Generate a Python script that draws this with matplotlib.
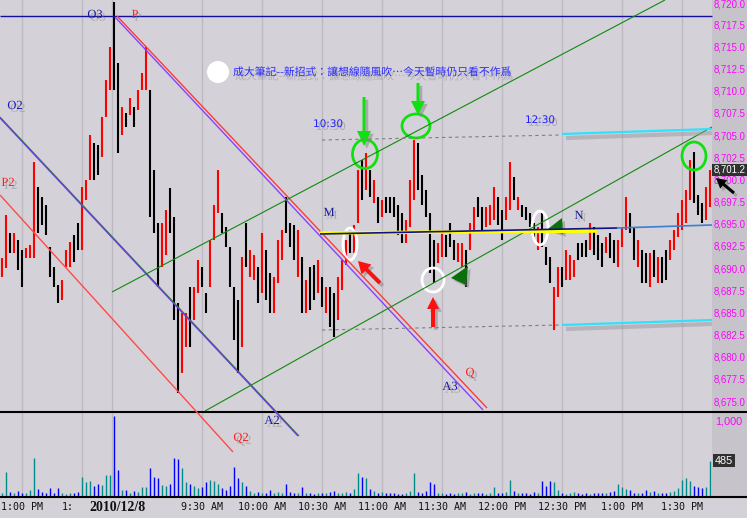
import matplotlib
matplotlib.use('Agg')
import matplotlib.pyplot as plt
import matplotlib.patheffects as pe
from matplotlib.patches import Ellipse, Polygon, FancyArrow, Circle
import numpy as np

# ---------------- data (2-minute bars) ----------------
highs = [
    8691.3, 8696.1, 8694.1, 8694.1, 8693.3, 8692.2, 8692.4, 8692.7, 8702.1, 8699.3,
    8698.1, 8697.2, 8692.5, 8690.2, 8688.2, 8688.8, 8692.2, 8693.1, 8693.8, 8695.2,
    8699.3, 8700.0, 8705.1, 8704.2, 8704.0, 8707.1, 8711.3, 8715.0, 8720.1, 8713.2,
    8708.3, 8707.6, 8709.3, 8708.3, 8710.2, 8712.1, 8715.0, 8710.2, 8701.2, 8695.2,
    8695.2, 8696.7, 8699.1, 8695.9, 8686.2, 8685.1, 8685.1, 8688.0, 8688.0, 8691.0,
    8690.2, 8687.3, 8693.3, 8697.2, 8701.2, 8696.3, 8694.7, 8692.5, 8688.0, 8686.5,
    8691.4, 8695.2, 8692.2, 8691.6, 8690.2, 8694.1, 8692.2, 8689.6, 8689.1, 8693.3,
    8694.4, 8698.1, 8695.2, 8695.0, 8694.4, 8691.4, 8688.8, 8690.2, 8690.5, 8691.0,
    8689.1, 8688.0, 8688.0, 8687.3, 8689.1, 8691.0, 8693.3, 8694.2, 8695.0, 8701.2,
    8702.3, 8703.1, 8701.2, 8700.0, 8698.1, 8697.8, 8698.1, 8698.1, 8698.1, 8697.2,
    8696.3, 8695.5, 8700.0, 8704.6, 8704.2, 8700.6, 8698.9, 8696.3, 8693.3, 8692.9,
    8694.1, 8693.8, 8695.2, 8693.3, 8692.9, 8692.9, 8692.2, 8695.2, 8697.0, 8698.1,
    8697.0, 8697.0, 8697.2, 8699.3, 8698.1, 8696.7, 8698.1, 8702.1, 8700.4, 8698.1,
    8697.2, 8697.0, 8696.3, 8695.2, 8694.7, 8696.3, 8692.5, 8691.4, 8688.0, 8690.2,
    8690.2, 8692.2, 8691.6, 8691.0, 8692.9, 8692.9, 8693.3, 8695.2, 8694.7, 8693.8,
    8692.9, 8693.6, 8694.1, 8693.3, 8693.3, 8694.7, 8698.1, 8696.3, 8694.7, 8693.3,
    8692.2, 8691.8, 8691.8, 8692.2, 8691.4, 8691.4, 8692.2, 8693.3, 8694.4, 8696.3,
    8697.8, 8698.9, 8702.3, 8703.2, 8698.4, 8697.5, 8699.3, 8701.2]
lows = [
    8689.1, 8690.1, 8691.8, 8691.8, 8689.9, 8688.0, 8691.3, 8691.3, 8691.3, 8694.1,
    8695.0, 8693.8, 8689.1, 8688.0, 8686.2, 8686.5, 8690.2, 8690.2, 8690.8, 8692.2,
    8692.2, 8697.8, 8700.0, 8700.0, 8700.6, 8702.6, 8707.1, 8710.2, 8710.2, 8703.1,
    8705.1, 8706.0, 8707.4, 8706.0, 8707.9, 8710.2, 8710.2, 8695.9, 8694.1, 8688.0,
    8690.2, 8691.6, 8694.1, 8684.3, 8676.0, 8678.3, 8681.2, 8681.2, 8684.3, 8687.3,
    8688.0, 8685.1, 8688.0, 8693.3, 8696.3, 8694.1, 8692.5, 8688.0, 8682.0, 8678.3,
    8681.2, 8690.2, 8689.1, 8688.8, 8686.2, 8687.3, 8686.5, 8685.1, 8685.1, 8688.4,
    8691.0, 8694.1, 8692.5, 8691.0, 8689.1, 8685.1, 8685.1, 8685.4, 8686.5, 8687.3,
    8685.7, 8685.1, 8683.5, 8682.3, 8684.3, 8687.6, 8690.5, 8691.8, 8691.8, 8695.2,
    8697.8, 8698.9, 8698.1, 8697.5, 8695.2, 8695.9, 8696.3, 8696.3, 8695.9, 8693.8,
    8692.9, 8692.9, 8694.7, 8697.8, 8698.9, 8697.2, 8695.9, 8689.6, 8688.4, 8690.7,
    8691.4, 8691.4, 8692.5, 8691.0, 8690.8, 8690.2, 8688.0, 8692.2, 8694.1, 8695.9,
    8694.4, 8694.7, 8695.0, 8695.5, 8695.0, 8693.3, 8695.5, 8696.7, 8697.8, 8696.7,
    8695.9, 8695.5, 8694.7, 8693.6, 8692.2, 8692.5, 8690.5, 8688.4, 8683.1, 8686.9,
    8688.0, 8688.8, 8688.8, 8689.1, 8691.0, 8691.4, 8691.4, 8692.2, 8691.6, 8691.0,
    8690.2, 8691.8, 8691.3, 8690.7, 8690.2, 8692.5, 8694.4, 8694.1, 8691.0, 8690.2,
    8688.4, 8688.4, 8688.0, 8689.1, 8688.4, 8688.4, 8688.8, 8691.0, 8692.2, 8693.6,
    8694.4, 8695.2, 8697.8, 8697.5, 8696.1, 8695.2, 8695.5, 8697.0]
updown = ("rrkrkkrrrk" "kkkkkrrrkk" "rrrkkrrrkk" "rkrkrrrkkk" "rrkkkrrkrr"
          "kkrrrkkkkk" "rkrrkrkkrr" "rkkkrkrkkr" "krkkrrrkrr" "krkrkrkkkk"
          "krrrkkkkkr" "rkkkrrkrrk" "krrrkkrrkr" "kkkkrkkkrr" "krrrkkkrkk"
          "krkkrrrkkr" "kkrkrkkrrr" "rrrkkkrr")
volumes = [
    60, 330, 70, 60, 80, 50, 60, 90, 520, 110,
    70, 60, 120, 50, 120, 60, 40, 60, 50, 70,
    270, 200, 210, 150, 180, 160, 290, 300, 1080, 360,
    90, 100, 60, 80, 70, 130, 130, 390, 270, 250,
    160, 150, 180, 520, 510, 390, 200, 170, 150, 120,
    130, 200, 230, 220, 180, 120, 100, 150, 400, 250,
    200, 150, 80, 60, 70, 60, 50, 90, 60, 70,
    60, 180, 70, 60, 50, 130, 50, 60, 40, 60,
    50, 60, 70, 80, 60, 50, 70, 60, 110, 320,
    270, 250, 110, 80, 60, 70, 50, 60, 50, 40,
    40, 50, 80, 320, 70, 60, 80, 200, 180, 60,
    50, 40, 60, 40, 50, 60, 70, 40, 50, 60,
    50, 40, 60, 130, 60, 50, 70, 230, 80, 60,
    50, 60, 40, 70, 60, 210, 150, 220, 200, 90,
    60, 40, 50, 70, 50, 40, 60, 40, 50, 60,
    50, 60, 70, 80, 180, 130, 110, 100, 60, 50,
    60, 90, 70, 80, 60, 50, 60, 70, 80, 120,
    230, 250, 210, 150, 140, 120, 130, 485]
bar_minutes = np.arange(len(highs)) * 2 + 1   # minutes from chart start

tick_minutes = [11, 41, 101, 131, 161, 191, 221, 251, 281, 311, 341]
tick_labels = ['1:00 PM', '1:', '9:30 AM', '10:00 AM', '10:30 AM', '11:00 AM',
               '11:30 AM', '12:00 PM', '12:30 PM', '1:00 PM', '1:30 PM']
day_open_minute = 56
date_label = '2010/12/8'
price_ticks = [8675 + 2.5 * i for i in range(19)]
last_price = 8701.2
last_volume = 485

# ---------------- figure ----------------
W, H = 747, 518
BG = '#d4d2d8'
BG_AX = '#c6c4ca'
fig = plt.figure(figsize=(W / 100, H / 100), dpi=100)
fig.patch.set_facecolor(BG)

PLOT_R = 712
PRICE_BOT = 412
VOL_BOT = 497

def fx(px):
    return px / W

def fy(py):
    return 1 - py / H

# right label strip (its own background axes, drawn first)
strip = fig.add_axes([fx(PLOT_R), fy(VOL_BOT), 1 - fx(PLOT_R), fy(0) - fy(VOL_BOT)], zorder=-5)
strip.set_facecolor(BG_AX)
strip.set_xticks([]); strip.set_yticks([])
for s in strip.spines.values():
    s.set_visible(False)

ax = fig.add_axes([0, fy(PRICE_BOT), fx(PLOT_R), fy(0) - fy(PRICE_BOT)], zorder=1)
axv = fig.add_axes([0, fy(VOL_BOT), fx(PLOT_R), fy(PRICE_BOT) - fy(VOL_BOT)], zorder=1)
for a in (ax, axv):
    a.set_facecolor('none')
    for s in a.spines.values():
        s.set_visible(False)
    a.set_xticks([])
    a.set_yticks([])
    a.set_xlim(0, 356)

PX_PER_PT = 8.87
ax.set_ylim(8720 - (PRICE_BOT - 3) / PX_PER_PT, 8720 + 3 / PX_PER_PT)
axv.set_ylim(0, 1000 * (VOL_BOT - PRICE_BOT) / 75.0)
y_top = ax.get_ylim()[1]

# vertical grid
for m in tick_minutes + [day_open_minute]:
    for a in (ax, axv):
        a.axvline(m, color='#bdbbc1', lw=1.0, zorder=0)

# price bars
cols = ['#ff0000' if c == 'r' else '#000000' for c in updown]
ax.vlines(bar_minutes, lows, highs, colors=cols, lw=1.5, zorder=3)

# volume bars
vcols = ['#0000ff' if c == 'k' else '#008b8b' for c in updown]
axv.vlines(bar_minutes, 0, volumes, colors=vcols, lw=1.0, zorder=3)

# price axis labels
lab_font = 'Liberation Sans'
LAB_FS = 6.9
for p in price_ticks:
    near_top = (y_top - p) < 1.0
    ax.text(1 + 1.5 / PLOT_R, y_top if near_top else p, f'{p:,.1f}',
            transform=ax.get_yaxis_transform(), color='#ff00ff', fontsize=LAB_FS,
            family=lab_font, va='top' if near_top else 'center', ha='left', clip_on=False)
ax.text(1 + 1.5 / PLOT_R, last_price, f'{last_price:,.1f}', transform=ax.get_yaxis_transform(),
        color='white', fontsize=LAB_FS, family=lab_font, va='center', ha='left', clip_on=False,
        zorder=10, bbox=dict(boxstyle='square,pad=0.12', facecolor='#303030', edgecolor='none'))
axv.text(1 + 3 / PLOT_R, 1000, '1,000', transform=axv.get_yaxis_transform(),
         color='#ff00ff', fontsize=7.8, family=lab_font, va='center', ha='left', clip_on=False)
axv.text(1 + 3 / PLOT_R, last_volume, f'{last_volume}', transform=axv.get_yaxis_transform(),
         color='white', fontsize=7.8, family=lab_font, va='center', ha='left', clip_on=False,
         bbox=dict(boxstyle='square,pad=0.15', facecolor='#303030', edgecolor='none'))

# time labels
mono = 'DejaVu Sans Mono'
for m, lab in zip(tick_minutes, tick_labels):
    if lab == '1:':
        axv.text(m - 10, -0.12, lab, transform=axv.get_xaxis_transform(), ha='left',
                 va='center', fontsize=7.2, family=mono, color='#101010', clip_on=False)
    else:
        axv.text(m, -0.12, lab, transform=axv.get_xaxis_transform(), ha='center', va='center',
                 fontsize=7.2, family=mono, color='#101010', clip_on=False)
axv.text(day_open_minute + 3, -0.12, date_label, transform=axv.get_xaxis_transform(),
         ha='center', va='center', fontsize=10, family='Liberation Serif', weight='bold',
         color='#101010', clip_on=False, zorder=10)

# ---------------- overlay (analyst drawings, pixel space) ----------------
ov = fig.add_axes([0, 0, 1, 1], zorder=5)
ov.set_xlim(0, W)
ov.set_ylim(H, 0)
ov.axis('off')
ov.patch.set_alpha(0)

def line(p0, p1, **kw):
    ov.plot([p0[0], p1[0]], [p0[1], p1[1]], solid_capstyle='butt', **kw)

# panel separators
line((0, PRICE_BOT), (W, PRICE_BOT), color='black', lw=1.5)
line((0, VOL_BOT), (W, VOL_BOT), color='black', lw=1.5)

line((0, 16), (PLOT_R, 16), color='#10109a', lw=1.0)
line((117, 16), (487, 408), color='#ff3a3a', lw=1.0)
line((115, 17), (483, 410), color='#8a40ff', lw=1.0)
line((0, 117), (299, 436), color='#208020', lw=0.8)
line((0, 118), (298, 436), color='#6a40e0', lw=1.0)
line((0, 195), (233, 452), color='#ff4a4a', lw=1.0)
line((112, 292), (665, 0), color='#108a10', lw=0.8)
line((205, 411), (712, 127), color='#108a10', lw=0.8)
line((322, 140), (560, 135), color='#808080', lw=0.8, ls=(0, (3, 3)))
line((322, 330), (560, 325), color='#808080', lw=0.8, ls=(0, (3, 3)))
for y0, y1 in ((134, 129), (325, 320)):
    line((566, y0 + 4), (712, y1 + 4), color='#9a989e', lw=3, alpha=0.5)
    line((562, y0), (712, y1), color='#30e0ff', lw=1.6)
line((320, 233), (597, 231), color='#ffff00', lw=2.5)
line((320, 234), (617, 228), color='#10108a', lw=1.2)
line((617, 228), (712, 225), color='#3a80d0', lw=1.2)

# ellipses
for (cx, cy, w, h) in [(365, 154, 25, 29), (416, 126, 28, 24), (694, 156, 24, 28)]:
    ov.add_patch(Ellipse((cx, cy), w, h, fill=False, edgecolor='#10e010', lw=2))
for (cx, cy, w, h) in [(350, 244, 14, 32), (433, 280, 22, 24), (540, 228, 16, 34)]:
    ov.add_patch(Ellipse((cx, cy), w, h, fill=False, edgecolor='white', lw=2))

shadow = [pe.SimplePatchShadow(offset=(2, -2), shadow_rgbFace='#808080', alpha=0.5), pe.Normal()]

def arrow(x0, y0, x1, y1, color, width, hw, hl):
    a = FancyArrow(x0, y0, x1 - x0, y1 - y0, width=width, head_width=hw, head_length=hl,
                   length_includes_head=True, color=color, lw=0)
    a.set_path_effects(shadow)
    ov.add_patch(a)

arrow(364, 97, 364, 146, '#10e010', 3, 14, 15)
arrow(418, 83, 418, 115, '#10e010', 3, 14, 14)
arrow(380, 283, 358, 261, '#ff1010', 4, 14, 12)
arrow(433, 327, 433, 297, '#ff1010', 4, 12, 12)
arrow(734, 193, 716, 178, '#000000', 3, 11, 10)
for pts in ([(451, 278), (468, 266), (466, 285)], [(548, 229), (562, 218), (563, 234)]):
    tri = Polygon(pts, closed=True, facecolor='#0a700a', edgecolor='none')
    tri.set_path_effects(shadow)
    ov.add_patch(tri)

ov.add_patch(Circle((218, 72), 11, facecolor='white', edgecolor='none'))

# labels
serif = 'Liberation Serif'
labels = [('O3', 95, 15, '#1a1aa0'), ('P', 135, 15, '#ff2020'), ('O2', 15, 106, '#1a1ac0'),
          ('P2', 8, 183, '#ff2020'), ('M', 329, 213, '#1a1aa0'), ('N', 579, 216, '#1a1aa0'),
          ('A3', 450, 387, '#1a1aa0'), ('Q', 470, 373, '#ff2020'), ('A2', 272, 421, '#1a1aa0'),
          ('Q2', 241, 438, '#ff2020')]
for t, x, y, c in labels:
    ov.text(x, y, t, color=c, fontsize=9, family=serif, ha='center', va='center',
            path_effects=shadow)
for t, x, y in [('10:30', 328, 124), ('12:30', 540, 120)]:
    ov.text(x, y, t, color='#2020ff', fontsize=7.5, family='DejaVu Sans', ha='center',
            va='center', path_effects=shadow)

ov.text(233, 72, '成大筆記--新招式：讓想線隨風吹…今天暫時仍只看不作爲', color='#2a2aff',
        fontsize=7.8, family=['Noto Sans CJK TC', 'DejaVu Sans'], ha='left', va='center',
        path_effects=[pe.SimplePatchShadow(offset=(1.5, -3), shadow_rgbFace='#707070', alpha=0.35),
                      pe.Normal()])

fig.savefig('out.png', dpi=100, facecolor=BG)
